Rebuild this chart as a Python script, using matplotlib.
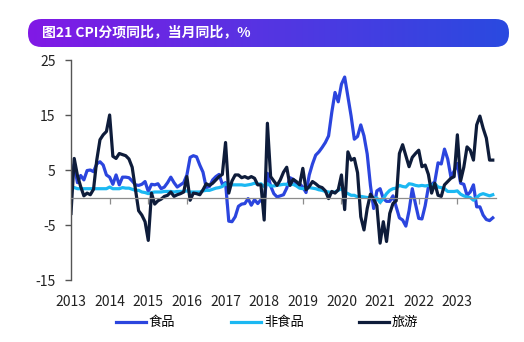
import matplotlib
matplotlib.use("Agg")
import matplotlib.pyplot as plt
import numpy as np
from matplotlib.colors import LinearSegmentedColormap
from matplotlib.patches import FancyBboxPatch

plt.rcParams['font.family'] = ['Noto Sans CJK SC', 'DejaVu Sans']
plt.rcParams['axes.unicode_minus'] = False

title = "图21 CPI分项同比，当月同比，%"
series_names = ["食品", "非食品", "旅游"]
years = list(range(2013, 2024))

# monthly y/y, Jan 2013 - Dec 2023
food = [
    2.9, 6.0, 2.7, 4.0, 3.2, 4.9, 5.0, 4.7, 6.1, 6.5, 5.9, 4.1,
    3.7, 2.4, 4.1, 2.3, 3.7, 3.7, 3.6, 3.0, 2.3, 2.2, 2.4, 2.9,
    1.1, 2.4, 2.3, 2.5, 1.6, 1.9, 2.7, 3.7, 2.7, 1.9, 2.3, 2.7,
    4.1, 7.3, 7.6, 7.4, 5.9, 4.6, 1.8, 2.0, 3.2, 3.8, 4.2, 2.4,
    2.7, -4.3, -4.4, -3.5, -1.6, -1.2, -1.1, -0.2, -1.4, -0.4, -1.1, -0.4,
    -0.5, 4.4, 2.1, 0.7, 0.1, 0.3, 0.5, 1.7, 3.6, 3.3, 2.5, 2.5,
    1.9, 0.9, 4.1, 6.1, 7.7, 8.3, 9.1, 10.0, 11.2, 15.5, 19.1, 17.4,
    20.6, 21.9, 18.3, 14.8, 10.6, 11.1, 13.2, 11.2, 7.9, 2.2, -2.0, 1.2,
    1.6, -0.2, -0.7, -0.7, 0.3, -1.7, -3.7, -4.1, -5.2, -2.4, 1.6, -1.2,
    -3.8, -3.9, -1.5, 1.9, 2.3, 2.9, 6.3, 6.1, 8.8, 7.0, 3.7, 4.8,
    6.2, 2.6, 2.4, 0.4, 1.0, 2.3, -1.7, -1.7, -3.2, -4.0, -4.2, -3.7,
]
non_food = [
    1.9, 1.8, 1.6, 1.6, 1.6, 1.6, 1.6, 1.6, 1.6, 1.6, 1.6, 1.6,
    1.9, 1.6, 1.6, 1.6, 1.8, 1.7, 1.7, 1.5, 1.3, 1.3, 1.0, 0.9,
    0.7, 0.9, 1.0, 1.0, 1.0, 1.1, 1.1, 1.1, 1.0, 1.1, 1.1, 1.1,
    1.2, 1.0, 1.0, 1.0, 1.0, 1.2, 1.3, 1.3, 1.5, 1.7, 1.8, 2.0,
    2.5, 2.2, 2.3, 2.3, 2.3, 2.3, 2.2, 2.3, 2.4, 2.6, 2.4, 2.5,
    2.0, 2.5, 2.1, 2.1, 2.2, 2.3, 2.4, 2.4, 2.3, 2.4, 2.1, 1.7,
    1.6, 1.7, 1.8, 1.7, 1.6, 1.4, 1.3, 1.1, 1.0, 0.9, 1.0, 1.3,
    1.6, 1.0, 0.7, 0.4, 0.4, 0.1, 0.2, 0.1, 0.0, -0.1, -0.1, -0.1,
    -0.9, -0.2, 0.7, 1.3, 1.6, 1.7, 2.2, 2.0, 1.9, 2.5, 2.4, 2.2,
    2.1, 2.2, 2.1, 2.2, 2.1, 2.5, 1.9, 1.8, 1.6, 1.1, 1.1, 1.1,
    1.2, 0.6, 0.3, 0.1, 0.0, -0.5, 0.0, 0.5, 0.7, 0.5, 0.3, 0.5,
]
tourism = [
    -2.9, 7.1, 4.0, 2.0, 0.3, 0.8, 0.5, 1.5, 6.8, 10.5, 11.4, 12.0,
    15.0, 7.5, 7.1, 8.0, 7.8, 7.6, 7.0, 5.5, 1.5, -2.4, -3.2, -4.4,
    -7.8, 0.8, -1.2, -0.6, -0.3, 0.2, 0.4, 1.0, 0.2, 0.5, 0.7, 1.0,
    3.8, -0.5, 0.8, 0.7, 0.5, 1.4, 2.5, 2.2, 2.6, 3.2, 3.8, 4.2,
    10.0, 0.8, 3.0, 4.1, 4.1, 3.6, 3.8, 3.5, 3.8, 3.5, 2.3, 2.3,
    -4.1, 13.5, 3.8, 3.0, 2.2, 3.2, 4.6, 5.5, 2.2, 3.3, 2.9, 2.3,
    5.3, 1.4, 2.0, 2.9, 2.5, 2.0, 1.8, 1.2, -0.2, 1.1, 0.8, 1.4,
    4.1, -2.2, 8.3, 6.8, 7.1, 4.5, -3.5, -5.9, -2.0, 0.6, -0.3, -1.5,
    -8.3, -4.4, -8.0, -2.9, -1.1, -0.6, 8.0, 9.6, 7.6, 5.6, 7.3, 8.0,
    8.6, 5.6, 5.9, 4.2, 0.8, 2.6, 0.4, 0.2, 2.3, 2.9, 3.5, 3.8,
    11.4, 3.0, 5.5, 9.2, 8.6, 6.8, 13.2, 14.8, 12.6, 10.8, 6.8, 6.8,
]
colors = ["#2b45de", "#1bb8f2", "#0e1c3a"]

t = 2013 + np.arange(len(food)) / 12.0

fig = plt.figure(figsize=(5.24, 3.42), dpi=100)

# title banner with purple -> blue gradient
bax = fig.add_axes([28 / 524, 1 - 47 / 342, 481 / 524, 28 / 342])
bax.set_xlim(0, 481)
bax.set_ylim(0, 28)
bax.axis('off')
cmap = LinearSegmentedColormap.from_list("banner", ["#8119e6", "#5535e2", "#2a4ae0"])
grad = np.linspace(0, 1, 256).reshape(1, -1)
im = bax.imshow(grad, aspect='auto', cmap=cmap, extent=[0, 481, 0, 28])
pill = FancyBboxPatch((0, 0), 481, 28, boxstyle="round,pad=0,rounding_size=13.5",
                      transform=bax.transData, facecolor='none', edgecolor='none')
bax.add_patch(pill)
im.set_clip_path(pill)
bax.text(14, 14.5, title, color='white', fontsize=10, fontweight='bold',
         va='center', ha='left')

ax = fig.add_axes([71 / 524, 62 / 342, 425 / 524, 220 / 342])
for name, vals, c in zip(series_names, [food, non_food, tourism], colors):
    ax.plot(t, vals, color=c, lw=2.3, label=name, solid_joinstyle='round')

ax.set_xlim(2013, 2024)
ax.set_ylim(-15, 25)
ax.set_yticks([-15, -5, 5, 15, 25])
ax.tick_params(axis='y', length=4, width=1, color='#555555', pad=7,
               labelsize=10, labelcolor='#222222')

for s in ['top', 'right']:
    ax.spines[s].set_visible(False)
ax.spines['left'].set_color('#555555')
ax.spines['left'].set_linewidth(1.0)
# zero line with year ticks
ax.spines['bottom'].set_position(('data', 0))
ax.spines['bottom'].set_color('#8c8c8c')
ax.spines['bottom'].set_linewidth(0.9)
ax.set_xticks(years)
ax.tick_params(axis='x', direction='out', length=4, width=0.9, color='#8c8c8c',
               labelbottom=False)

# year labels along the bottom of the plot
sec = ax.secondary_xaxis('bottom')
sec.set_xticks(years)
sec.set_xticklabels([str(y) for y in years])
sec.tick_params(length=0, pad=11, labelsize=10, labelcolor='#222222')
sec.spines['bottom'].set_visible(False)

fig.legend(loc='center', bbox_to_anchor=(0.51, 0.056), ncol=3, frameon=False,
           fontsize=9.5, handlelength=2.3, handletextpad=0.2, columnspacing=4.2)

fig.savefig("out.png", dpi=100)
